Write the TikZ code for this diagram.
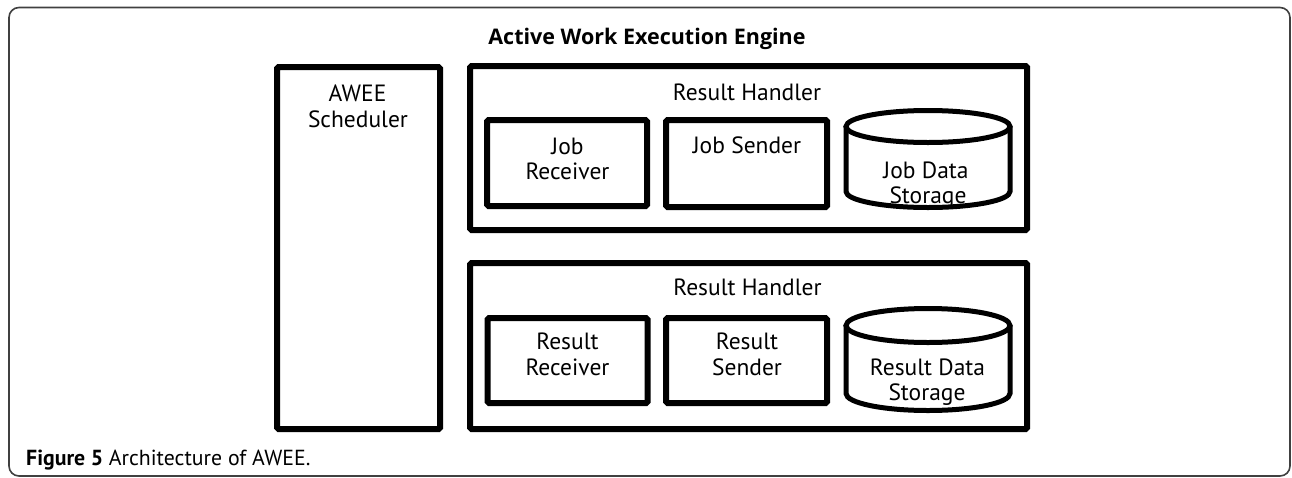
\documentclass[tikz,border=0pt]{standalone}
\usepackage{fontspec}
\setmainfont{PT Sans}
\newfontfamily\titlefont{Open Sans}
\begin{document}
\begin{tikzpicture}[x=1pt,y=-1pt,
  frame/.style={draw=black!75, line width=1.6pt, rounded corners=10pt},
  box/.style={draw, line width=6pt, rounded corners=1.5pt, inner sep=0pt},
  cyl/.style={draw, line width=5pt},
  lbl/.style={font=\fontsize{23.5}{26}\selectfont, inner sep=0pt, anchor=base},
  ttl/.style={font=\fontsize{21.5}{24}\selectfont\titlefont\bfseries, inner sep=0pt, anchor=base},
  captext/.style={font=\fontsize{21.8}{24}\selectfont, inner sep=0pt, anchor=base west}]
\useasboundingbox (0,0) rectangle (1292,477);

% outer frame
\draw[frame] (9,7.5) rectangle (1290,476);

% title
\node[ttl] (title) at (647,44) {Active Work Execution Engine};

% scheduler column
\node[box, minimum width=163pt, minimum height=362pt] (sched) at (358.5,248) {};
\node[lbl] (schedA) at (357.5,101.5) {AWEE};
\node[lbl] (schedB) at (358,127) {Scheduler};

% upper handler
\node[box, minimum width=557pt, minimum height=164pt] (rh1) at (748.5,148) {};
\node[lbl] (rh1txt) at (747,100) {Result Handler};
\node[box, minimum width=160pt, minimum height=86pt] (jrecv) at (567,163) {};
\node[lbl] (jrecvA) at (567.5,154) {Job};
\node[lbl] (jrecvB) at (567.5,179.5) {Receiver};
\node[box, minimum width=161pt, minimum height=87pt] (jsend) at (746.5,163.5) {};
\node[lbl] (jsendtxt) at (747,153) {Job Sender};
\draw[cyl] (846,126.5) -- (846,191.5)
  arc[start angle=180, end angle=0, x radius=82, y radius=16] -- (1010,126.5);
\draw[cyl] (928,126.5) ellipse [x radius=82, y radius=16];
\node[lbl] (jstoreA) at (926,178) {Job Data};
\node[lbl] (jstoreB) at (928,203) {Storage};

% lower handler
\node[box, minimum width=557pt, minimum height=166pt] (rh2) at (748.5,346) {};
\node[lbl] (rh2txt) at (747.5,295) {Result Handler};
\node[box, minimum width=160pt, minimum height=85pt] (rrecv) at (567.5,360.5) {};
\node[lbl] (rrecvA) at (567.5,349) {Result};
\node[lbl] (rrecvB) at (567.5,375) {Receiver};
\node[box, minimum width=161pt, minimum height=85pt] (rsend) at (746.5,360.5) {};
\node[lbl] (rsendA) at (747,349) {Result};
\node[lbl] (rsendB) at (747,375) {Sender};
\draw[cyl] (846,325.5) -- (846,393.5)
  arc[start angle=180, end angle=0, x radius=82, y radius=17] -- (1010,325.5);
\draw[cyl] (928,325.5) ellipse [x radius=82, y radius=17];
\node[lbl] (rstoreA) at (927.5,375) {Result Data};
\node[lbl] (rstoreB) at (927,400) {Storage};

% caption
\node[captext] (caption) at (26,465) {\textbf{Figure 5} Architecture of AWEE.};
\end{tikzpicture}
\end{document}
